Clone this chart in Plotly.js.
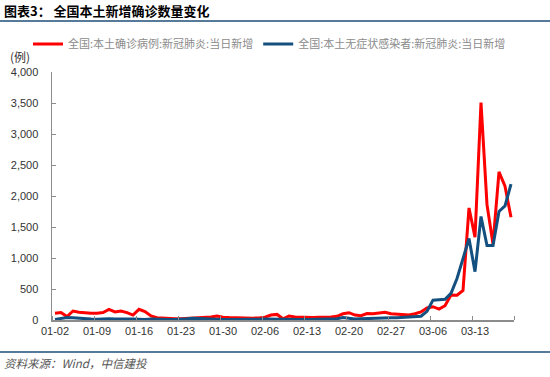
<!DOCTYPE html>
<html>
<head>
<meta charset="utf-8">
<script src="https://cdn.plot.ly/plotly-3.0.1.min.js"></script>
<style>html,body{margin:0;padding:0;background:#fff;}#chart{width:550px;height:377px;}</style>
</head>
<body>
<div id="chart"></div>
<script>
// Categories (one per day, 2022-01-02 .. 2022-03-19)
const dates = [
 '2022-01-02','2022-01-03','2022-01-04','2022-01-05','2022-01-06','2022-01-07','2022-01-08',
 '2022-01-09','2022-01-10','2022-01-11','2022-01-12','2022-01-13','2022-01-14','2022-01-15',
 '2022-01-16','2022-01-17','2022-01-18','2022-01-19','2022-01-20','2022-01-21','2022-01-22',
 '2022-01-23','2022-01-24','2022-01-25','2022-01-26','2022-01-27','2022-01-28','2022-01-29',
 '2022-01-30','2022-01-31','2022-02-01','2022-02-02','2022-02-03','2022-02-04','2022-02-05',
 '2022-02-06','2022-02-07','2022-02-08','2022-02-09','2022-02-10','2022-02-11','2022-02-12',
 '2022-02-13','2022-02-14','2022-02-15','2022-02-16','2022-02-17','2022-02-18','2022-02-19',
 '2022-02-20','2022-02-21','2022-02-22','2022-02-23','2022-02-24','2022-02-25','2022-02-26',
 '2022-02-27','2022-02-28','2022-03-01','2022-03-02','2022-03-03','2022-03-04','2022-03-05',
 '2022-03-06','2022-03-07','2022-03-08','2022-03-09','2022-03-10','2022-03-11','2022-03-12',
 '2022-03-13','2022-03-14','2022-03-15','2022-03-16','2022-03-17','2022-03-18','2022-03-19'
];

// 全国:本土确诊病例:新冠肺炎:当日新增
const confirmed = [
 108,120,55,145,125,115,108,
 110,120,172,130,145,120,80,
 172,135,65,38,30,25,22,
 20,25,30,35,40,50,65,
 45,40,35,30,28,30,32,
 45,80,90,20,65,50,45,
 45,40,45,45,50,60,100,
 118,80,70,105,100,108,124,
 100,90,80,80,100,130,195,
 214,175,230,402,400,476,1807,
 1337,3507,1860,1226,2388,2157,1656
];

// 全国:本土无症状感染者:新冠肺炎:当日新增
const asymptomatic = [
 10,25,40,35,25,20,15,
 12,18,20,15,12,15,18,
 12,10,15,10,8,8,10,
 12,20,30,25,15,10,10,
 8,10,8,8,10,10,12,
 15,12,10,8,10,10,8,
 10,12,12,15,15,20,40,
 30,15,20,25,25,25,30,
 35,35,40,45,60,60,140,
 320,328,335,430,670,990,1315,
 780,1670,1200,1200,1750,1840,2190
];

// Tick labels
const tickDates = ['2022-01-02','2022-01-09','2022-01-16','2022-01-23','2022-01-30','2022-02-06',
                   '2022-02-13','2022-02-20','2022-02-27','2022-03-06','2022-03-13'];
const tickLabels = ['01-02','01-09','01-16','01-23','01-30','02-06','02-13','02-20','02-27','03-06','03-13'];

const seriesNames = ['全国:本土确诊病例:新冠肺炎:当日新增','全国:本土无症状感染者:新冠肺炎:当日新增'];

const CJK = '"Noto Sans CJK SC", "Noto Sans", sans-serif';
const LAT = '"Liberation Sans", Arial, sans-serif';
const axisGray = '#8c8c8c';
const navy = '#1f4e79';

// plot area geometry helpers (paper coords)
const L = 52, R = 36, T = 72, B = 57, W = 550, H = 377;
const pw = W - L - R, ph = H - T - B;
const px = x => (x - L) / pw;
const py = y => (H - B - y) / ph;

const traces = [
  {x: dates, y: confirmed, type: 'scatter', mode: 'lines', name: seriesNames[0],
   line: {color: '#ff0000', width: 3}},
  {x: dates, y: asymptomatic, type: 'scatter', mode: 'lines', name: seriesNames[1],
   line: {color: '#14507f', width: 3}}
];

const layout = {
  width: W, height: H,
  margin: {l: L, r: R, t: T, b: B, pad: 0},
  paper_bgcolor: '#fff', plot_bgcolor: '#fff',
  showlegend: true,
  legend: {orientation: 'h', x: px(28), xanchor: 'left', y: py(44), yanchor: 'middle',
           font: {family: CJK, size: 11, color: '#8c8c8c'}, bgcolor: 'rgba(0,0,0,0)',
           borderwidth: 0, tracegroupgap: 0},
  xaxis: {type: 'date', range: ['2022-01-01 12:00', '2022-03-19 12:00'],
          tickmode: 'array', tickvals: tickDates, ticktext: tickLabels, ticks: '',
          minor: {tickmode: 'linear', tick0: '2022-01-01 12:00', dtick: 7 * 86400000,
                  ticks: 'inside', ticklen: 4, tickcolor: axisGray, tickwidth: 1, showgrid: false},
          showline: true, linecolor: axisGray, linewidth: 1.5, showgrid: false, zeroline: false,
          tickfont: {family: LAT, size: 11, color: '#333'}, fixedrange: true},
  yaxis: {range: [0, 4000], dtick: 500, tick0: 0, tickformat: ',d',
          ticks: 'inside', ticklen: 4, tickcolor: axisGray, tickwidth: 1,
          showline: true, linecolor: axisGray, linewidth: 1.5, showgrid: false, zeroline: false,
          ticklabelstandoff: 10,
          tickfont: {family: LAT, size: 11, color: '#333'}, fixedrange: true},
  shapes: [
    {type: 'line', xref: 'paper', yref: 'paper', x0: px(0), x1: px(550), y0: py(21), y1: py(21),
     line: {color: navy, width: 1.5}},
    {type: 'line', xref: 'paper', yref: 'paper', x0: px(0), x1: px(550), y0: py(352), y1: py(352),
     line: {color: navy, width: 1.5}}
  ],
  annotations: [
    {text: '<b>图表3： 全国本土新增确诊数量变化</b>', xref: 'paper', yref: 'paper',
     x: px(2), y: py(10), xanchor: 'left', yanchor: 'middle', showarrow: false,
     font: {family: CJK, size: 13, color: '#000'}},
    {text: '(例)', xref: 'paper', yref: 'paper', x: px(8), y: py(57), xanchor: 'left', yanchor: 'middle',
     showarrow: false, font: {family: CJK, size: 12, color: '#333'}},
    {text: '<i>资料来源：Wind，中信建投</i>', xref: 'paper', yref: 'paper', x: px(2), y: py(363),
     xanchor: 'left', yanchor: 'middle', showarrow: false,
     font: {family: CJK, size: 11.5, color: '#555'}}
  ]
};

Plotly.newPlot('chart', traces, layout, {staticPlot: true, displayModeBar: false});
</script>
</body>
</html>
